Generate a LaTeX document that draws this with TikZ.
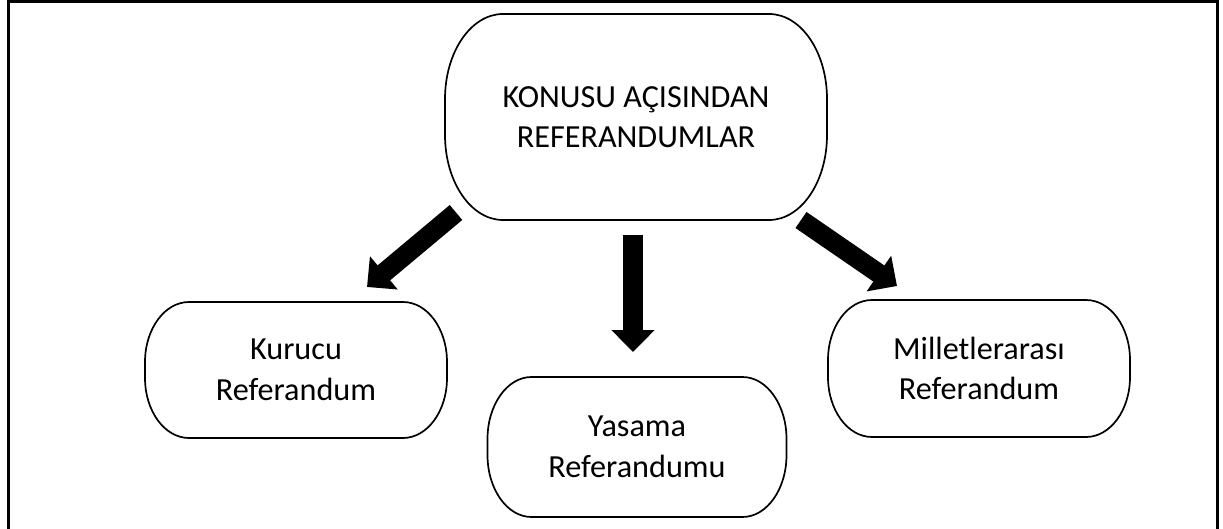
\documentclass[tikz,border=0pt]{standalone}
\usepackage{fontspec}
\setmainfont{Carlito}
\usetikzlibrary{arrows.meta}

% Outline of a box with elliptical corners, drawn round a named node.
% #1 node name, #2 horizontal corner radius, #3 vertical corner radius
\newcommand\capsuleoutline[3]{%
  \draw[outline] ([xshift=#2]#1.north west) -- ([xshift=-#2]#1.north east)
    arc[start angle=90,end angle=0,x radius=#2,y radius=#3]
    -- ([yshift=#3]#1.south east)
    arc[start angle=0,end angle=-90,x radius=#2,y radius=#3]
    -- ([xshift=#2]#1.south west)
    arc[start angle=270,end angle=180,x radius=#2,y radius=#3]
    -- ([yshift=-#3]#1.north west)
    arc[start angle=180,end angle=90,x radius=#2,y radius=#3]
    -- cycle;}

\begin{document}
\begin{tikzpicture}[x=1pt,y=-1pt,
  box/.style={inner sep=0pt,outer sep=0pt,align=center,
    font=\fontsize{32.2}{40.5}\selectfont},
  outline/.style={draw=black,line width=1.7pt},
  blockarrow/.style={line width=19.5pt,
    -{Triangle[length=22pt,width=42pt]}},
  frame/.style={line width=3pt}]

\useasboundingbox (0,0) rectangle (1223,529);

% page frame (open at the bottom)
\draw[frame] (8,531) -- (8,1.5) -- (1217,1.5) -- (1217,531);

% boxes
\node[box,minimum width=382pt,minimum height=206pt] (top) at (636,117)
  {KONUSU AÇISINDAN\\REFERANDUMLAR};
\node[box,minimum width=302pt,minimum height=136pt] (kurucu) at (296,370)
  {Kurucu\\Referandum};
\node[box,minimum width=299pt,minimum height=140pt] (yasama) at (637,447)
  {Yasama\\Referandumu};
\node[box,minimum width=302pt,minimum height=137pt] (millet) at (979,368.5)
  {Milletlerarası\\Referandum};

\capsuleoutline{top}{58pt}{85pt}
\capsuleoutline{kurucu}{44pt}{60pt}
\capsuleoutline{yasama}{44pt}{62pt}
\capsuleoutline{millet}{44pt}{60pt}

% block arrows between the main box and the three kinds
\coordinate (l0) at (456,212.5);
\coordinate (l1) at (367,287);
\coordinate (m0) at (633,235);
\coordinate (m1) at (633,352);
\coordinate (r0) at (801,220);
\coordinate (r1) at (897,286);

\draw[blockarrow] (l0) -- (l1);
\draw[blockarrow] (m0) -- (m1);
\draw[blockarrow] (r0) -- (r1);
\end{tikzpicture}
\end{document}
